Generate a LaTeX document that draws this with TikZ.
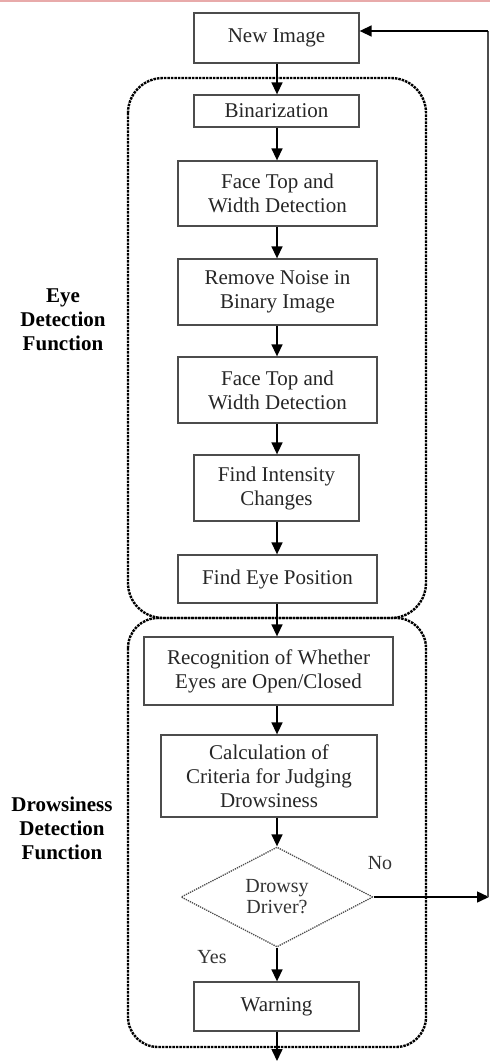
\documentclass[tikz,border=0pt]{standalone}
\usepackage{fontspec}
\setmainfont{Liberation Serif}
\usetikzlibrary{shapes.geometric,arrows.meta}
\definecolor{bandpink}{RGB}{232,170,170}
\begin{document}
\begin{tikzpicture}[x=1pt,y=-1pt,
  stepbox/.style={draw=black!70, line width=1.3pt, align=center, inner sep=0pt, text=black!85, font=\fontsize{21}{24}\selectfont},
  decision/.style={diamond, draw=black!70, densely dotted, line width=1.3pt, aspect=1.9, minimum width=192pt, minimum height=100pt, inner sep=0pt, align=center, text=black!80, font=\fontsize{20}{21}\selectfont},
  flow/.style={line width=1.5pt, -{Triangle[length=12pt,width=11pt]}},
  region/.style={line width=2.4pt, dash pattern=on 2.5pt off 1pt},
  grouplbl/.style={align=center, font=\bfseries\fontsize{21}{24}\selectfont}]
\useasboundingbox (0,0) rectangle (490,1062);
\fill[bandpink] (0,0) rectangle (490,2);

\draw[region, rounded corners=35pt] (128,78) rectangle (426,618);
\draw[region, rounded corners=30pt] (128,618) rectangle (426,1047);

\node[stepbox, minimum width=165pt, minimum height=50pt] (img) at (276.5,38) {New Image};
\node[stepbox, minimum width=165pt, minimum height=32pt] (bin) at (276.5,111) {Binarization};
\node[stepbox, minimum width=199pt, minimum height=65pt] (face1) at (277.5,193.5) {Face Top and\\Width Detection};
\node[stepbox, minimum width=199pt, minimum height=66pt] (noise) at (277.5,292) {Remove Noise in\\Binary Image};
\node[stepbox, minimum width=199pt, minimum height=66pt] (face2) at (277.5,390) {Face Top and\\Width Detection};
\node[stepbox, minimum width=165pt, minimum height=66pt] (inten) at (276.5,488) {Find Intensity\\Changes};
\node[stepbox, minimum width=199pt, minimum height=48pt] (eyepos) at (277.5,579) {Find Eye Position};
\node[stepbox, minimum width=249pt, minimum height=68pt] (recog) at (268.5,671) {Recognition of Whether\\Eyes are Open/Closed};
\node[stepbox, minimum width=216pt, minimum height=82pt] (crit) at (269,776) {Calculation of\\Criteria for Judging\\Drowsiness};
\node[decision] (drowsy) at (277,897) {Drowsy\\Driver?};
\node[stepbox, minimum width=165pt, minimum height=49pt] (warn) at (276.5,1006.5) {Warning};

\node[grouplbl] (eyelbl) at (63,320) {Eye\\Detection\\Function};
\node[grouplbl] (drowlbl) at (62,828) {Drowsiness\\Detection\\Function};
\node[font=\fontsize{20}{22}\selectfont, text=black!80] (nolbl) at (380,863) {No};
\node[font=\fontsize{20}{22}\selectfont, text=black!80] (yeslbl) at (212,957) {Yes};

\coordinate (axis) at (277,0);
\coordinate (out) at (277,1061);
\coordinate (ret) at (489,897);
\coordinate (rettop) at (488,31);

\foreach \a/\b in {img/bin, bin/face1, face1/noise, noise/face2, face2/inten, inten/eyepos, eyepos/recog, recog/crit, crit/drowsy, drowsy/warn}
  \draw[flow] (\a.south -| axis) -- (\b.north -| axis);
\draw[flow] (warn.south -| axis) -- (out);
\draw[flow] (drowsy.east) -- (ret);
\draw[line width=1.2pt, black!70] (488,897) -- (rettop);
\draw[flow] (rettop) -- (img.east |- rettop);

\end{tikzpicture}
\end{document}
